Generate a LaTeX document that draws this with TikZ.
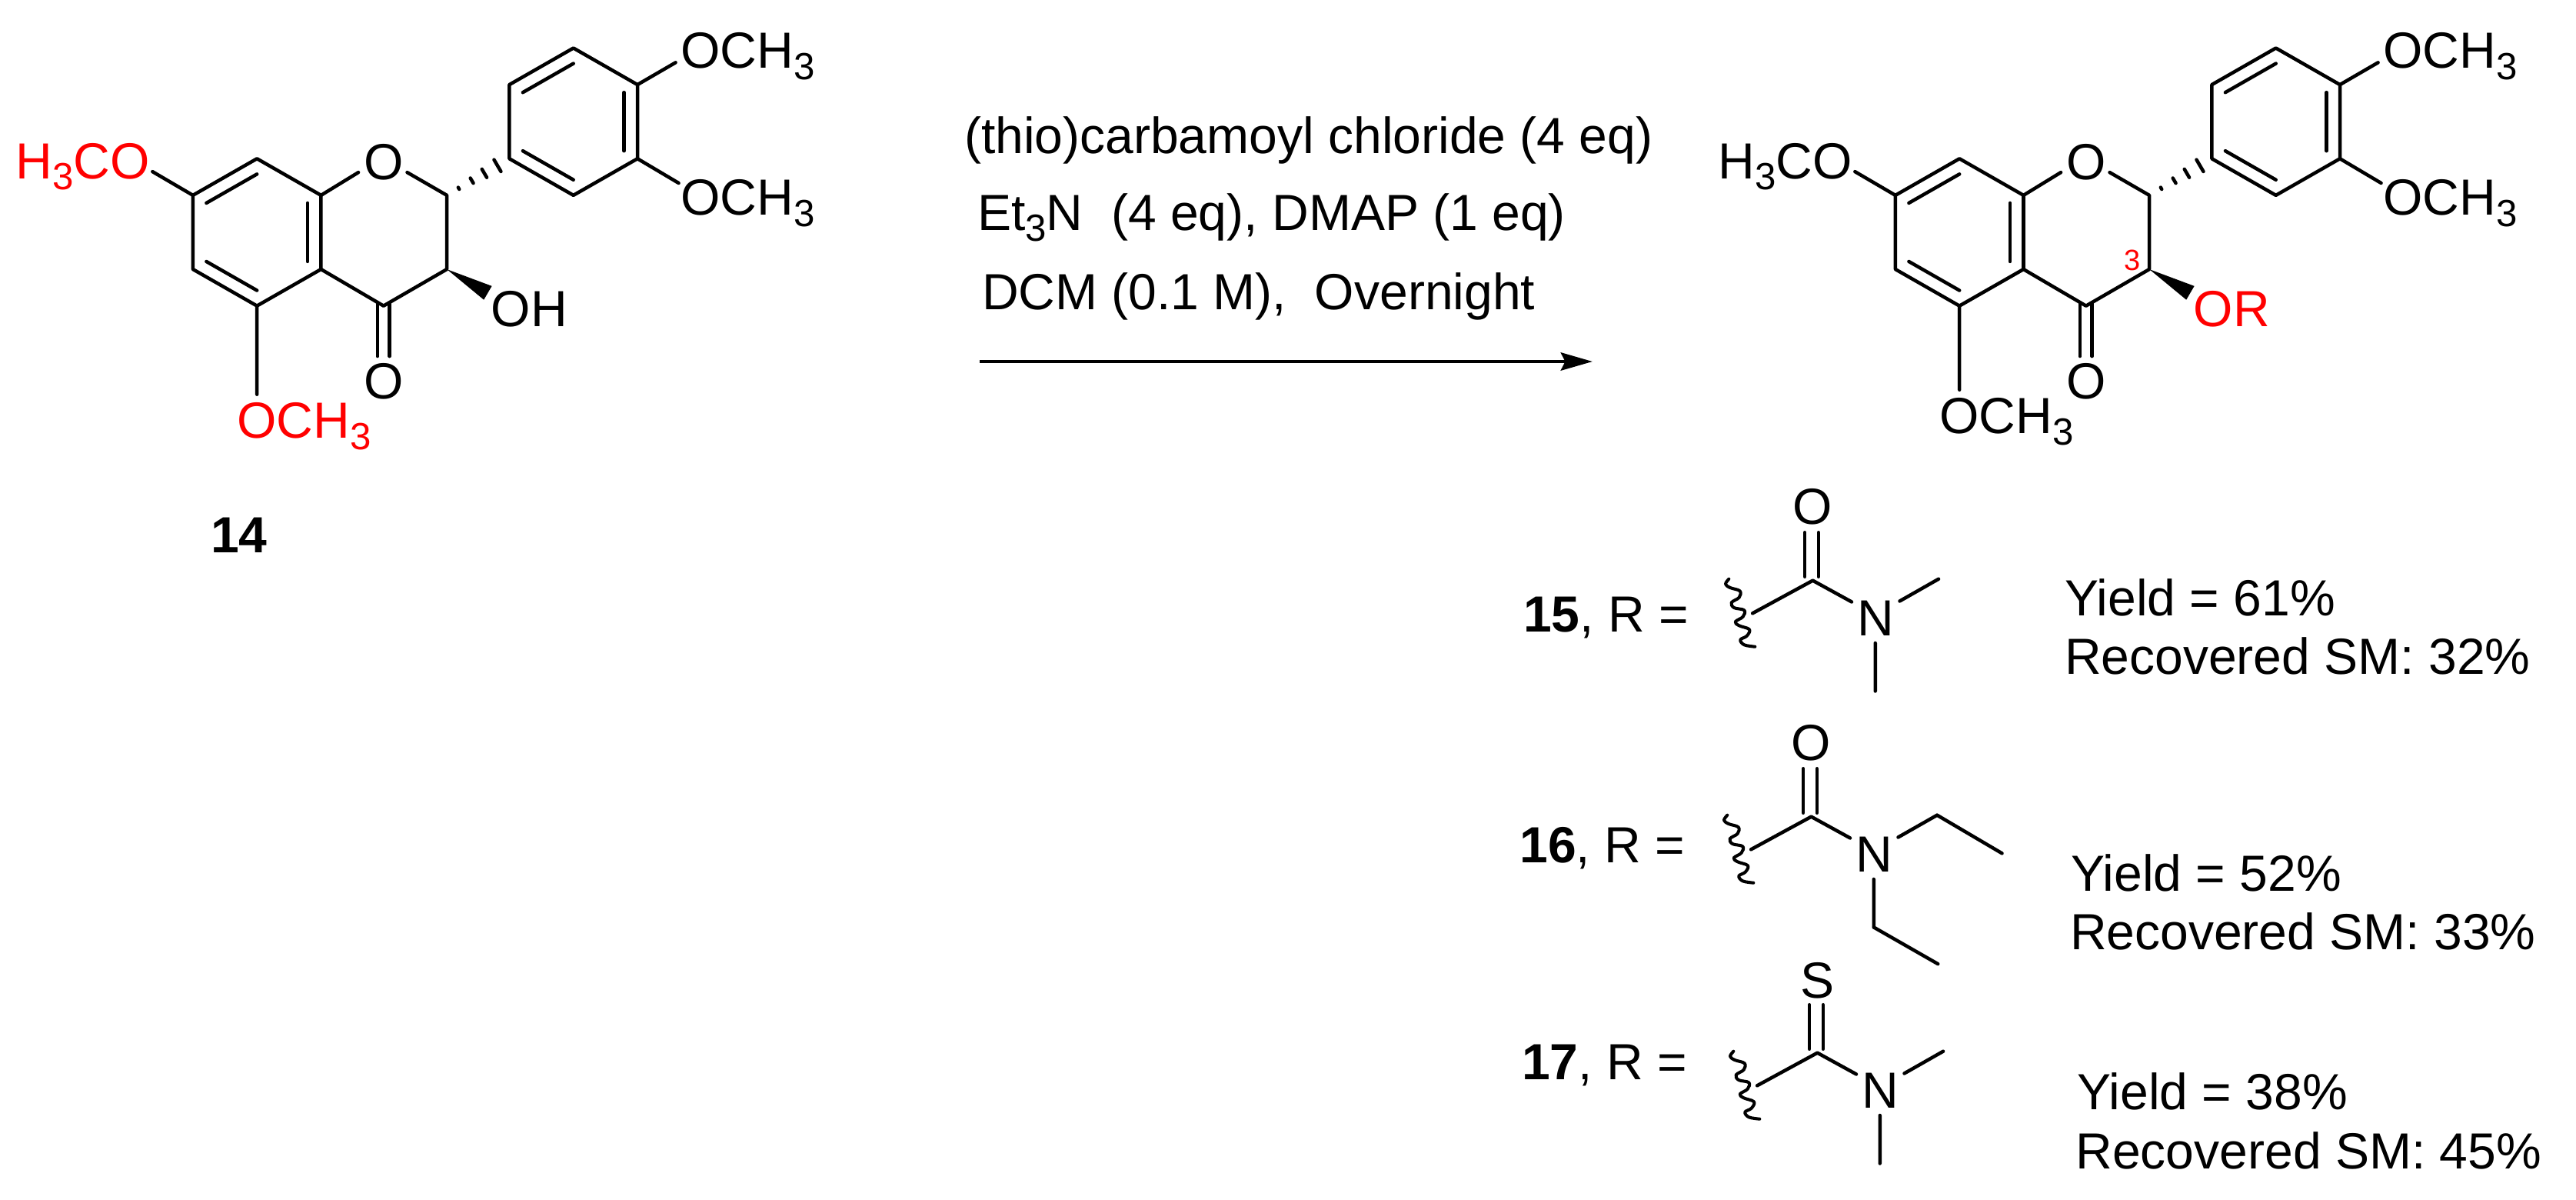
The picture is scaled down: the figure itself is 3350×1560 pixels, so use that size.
\documentclass[tikz,border=0pt]{standalone}
\usepackage{fontspec}
\setmainfont{Liberation Sans}
\usetikzlibrary{calc,arrows.meta}
\definecolor{chemred}{RGB}{255,0,0}
\newcommand{\chsub}[1]{\raisebox{-4.2pt}{\fontsize{14}{14}\selectfont #1}}
\tikzset{
  bond/.style={line width=1.28pt,line cap=round,line join=round,black},
  hashbar/.style={line width=1.28pt,line cap=round,black},
  lab/.style={inner sep=0pt,outer sep=0pt,anchor=base west,font=\fontsize{18.78}{22}\selectfont},
  atomlab/.style={lab,anchor=base},
  wavy/.style={line width=1.15pt,line cap=round,line join=round,black},
  reaction/.style={line width=1.3pt,-{Stealth[length=11.7pt,width=6.6pt,inset=1.6pt]}}
}
% inner line of an aromatic double bond
\newcommand{\dbl}[3]{\draw[bond] ($(#1)!.21!(#3)$) -- ($(#2)!.21!(#3)$);}
% flavanone skeleton: #1 prefix, #2 x shift, #3 colour of 5,7-OMe, #4 3-substituent text,
% #5 its colour, #6 its x, #7 5-OMe baseline
\newcommand{\flavanone}[7]{%
\begin{scope}[shift={(#2,0)},scale=.9917]
  \coordinate (#1C8) at (337,208);  \coordinate (#1C8a) at (421,256);
  \coordinate (#1C4a) at (421,353); \coordinate (#1C5) at (337,401);
  \coordinate (#1C6) at (253,353);  \coordinate (#1C7) at (253,256);
  \coordinate (#1C2) at (586,256);  \coordinate (#1C3) at (586,353);
  \coordinate (#1C4) at (503,401);
  \coordinate (#1cA) at (337,304.5);
  \coordinate (#1Ar1) at (668,208); \coordinate (#1Ar2) at (668,111);
  \coordinate (#1Ar3) at (752,63);  \coordinate (#1Ar4) at (836,111);
  \coordinate (#1Ar5) at (836,208); \coordinate (#1Ar6) at (752,256);
  \coordinate (#1cB) at (752,159.5);
  \coordinate (#1O1l) at (470,226); \coordinate (#1O1r) at (534,226);
  \coordinate (#1m7) at (200,225);
  \coordinate (#1m5) at (337,#7-57);
  \coordinate (#1m4) at (886,82);
  \coordinate (#1m3) at (890,240);
  \coordinate (#1w1) at (645,375);  \coordinate (#1w2) at (634.5,393);
  \coordinate (#1Oa1) at (495,397); \coordinate (#1Oa2) at (495,467);
  \coordinate (#1Ob1) at (511,397); \coordinate (#1Ob2) at (511,467);
  \node[atomlab] (#1O1) at (503,235) {O};
  \node[atomlab] (#1Ok) at (503,523) {O};
  \node[lab,text=#3] (#1OMe7) at (21,234) {H\chsub{3}CO};
  \node[lab,text=#3] (#1OMe5) at (311,#7) {OCH\chsub{3}};
  \node[lab] (#1OMe4) at (893,89) {OCH\chsub{3}};
  \node[lab] (#1OMe3) at (893,282) {OCH\chsub{3}};
  \node[lab,text=#5] (#1R) at (#6,428) {#4};
  \draw[bond] (#1C7) -- (#1C8) -- (#1C8a) -- (#1C4a) -- (#1C5) -- (#1C6) -- cycle;
  \draw[bond] (#1C8a) -- (#1O1l) (#1O1r) -- (#1C2) -- (#1C3) -- (#1C4) -- (#1C4a);
  \dbl{#1C7}{#1C8}{#1cA}\dbl{#1C8a}{#1C4a}{#1cA}\dbl{#1C6}{#1C5}{#1cA}
  \draw[bond] (#1Ar1) -- (#1Ar2) -- (#1Ar3) -- (#1Ar4) -- (#1Ar5) -- (#1Ar6) -- cycle;
  \dbl{#1Ar2}{#1Ar3}{#1cB}\dbl{#1Ar4}{#1Ar5}{#1cB}\dbl{#1Ar1}{#1Ar6}{#1cB}
  \draw[bond] (#1C7) -- (#1m7) (#1C5) -- (#1m5) (#1Ar4) -- (#1m4) (#1Ar5) -- (#1m3);
  \draw[bond] (#1Oa1) -- (#1Oa2) (#1Ob1) -- (#1Ob2);
  \fill[black] (#1C3) -- (#1w1) -- (#1w2) -- cycle;
  \foreach \tpos/\hw in {.19/.4pt,.40/1.1pt,.60/1.8pt,.81/2.55pt}{
    \draw[hashbar] ($(#1C2)!\tpos!(#1Ar1)!\hw!90:(#1Ar1)$) -- ($(#1C2)!\tpos!(#1Ar1)!\hw!-90:(#1Ar1)$);
  }
\end{scope}}
% R group: #1 prefix, #2,#3 shift, #4 heteroatom, #5 baseline of it
\newcommand{\chemgroup}[5]{%
\begin{scope}[shift={(#2,#3)}]
  \draw[wavy] plot[smooth,tension=.6] coordinates {(2248.3,752.7) (2244,759.3) (2250,764) (2262.7,768.3) (2261.7,776.7) (2251.7,783.3) (2255,790) (2268.3,793.3) (2266.7,801.7) (2256.7,808.3) (2261.7,813.3) (2275,818.3) (2271.7,826.7) (2263.3,831.7) (2268.3,838.3) (2282.3,840.7)};
\end{scope}
\begin{scope}[shift={(16.2+#2,5+#3)},scale=.9917]
  \coordinate (#1b) at (2282,799);  \coordinate (#1C) at (2361,756);
  \coordinate (#1Nl) at (2412,784);
  \coordinate (#1Nr) at (2475,783); \coordinate (#1Nd) at (2443,838);
  \coordinate (#1M1) at (2526,754); \coordinate (#1M2) at (2443,901);
  \coordinate (#1da1) at (2350.5,751); \coordinate (#1da2) at (2350.5,693);
  \coordinate (#1db1) at (2368.5,751); \coordinate (#1db2) at (2368.5,693);
  \node[atomlab] (#1X) at (2361,#5) {#4};
  \node[atomlab] (#1N) at (2443,828) {N};
  \draw[bond] (#1b) -- (#1C) -- (#1Nl) (#1Nr) -- (#1M1) (#1Nd) -- (#1M2);
  \draw[bond] (#1da1) -- (#1da2) (#1db1) -- (#1db2);
\end{scope}}
\begin{document}
\begin{tikzpicture}[x=0.01cm,y=-0.01cm]
\useasboundingbox (0,0) rectangle (3350,1560);
\fill[white] (0,0) rectangle (3350,1560);
\flavanone{a}{0}{chemred}{OH}{black}{644}{574}
\flavanone{b}{2214}{black}{OR}{chemred}{644}{568}
\node[lab] (n14) at (274,718) {\bfseries 14};
\node[lab,text=chemred,font=\fontsize{10.8}{12}\selectfont] (n3) at (2762,351) {3};
% reagents
\node[lab] (r1) at (1254,199) {(thio)carbamoyl chloride (4 eq)};
\node[lab] (r2) at (1271,299) {Et\chsub{3}N\ \ (4 eq), DMAP (1 eq)};
\node[lab] (r3) at (1277,402) {DCM (0.1 M),\ \ Overnight};
\coordinate (arrS) at (1274,470);
\coordinate (arrE) at (2071,470);
\draw[reaction] (arrS) -- (arrE);
% R groups
\node[lab] (l15) at (1981,821) {\textbf{15}, R =};
\node[lab] (l16) at (1976.5,1121) {\textbf{16}, R =};
\node[lab] (l17) at (1979,1403) {\textbf{17}, R =};
\chemgroup{p}{0}{0}{O}{682}
\chemgroup{q}{-2}{307}{O}{682}
\chemgroup{s}{6}{614}{S}{684}
\begin{scope}[shift={(14.2,312)},scale=.9917]
  \coordinate (qE1) at (2611,804);
  \coordinate (qE2) at (2527,949);
\end{scope}
\draw[bond] (qM1) -- (qE1) (qM2) -- (qE2);
% yields
\node[lab] (y1) at (2685,800) {Yield = 61\%};
\node[lab] (v1) at (2685,876) {Recovered SM: 32\%};
\node[lab] (y2) at (2693,1158) {Yield = 52\%};
\node[lab] (v2) at (2692,1234) {Recovered SM: 33\%};
\node[lab] (y3) at (2701,1442) {Yield = 38\%};
\node[lab] (v3) at (2699.5,1519) {Recovered SM: 45\%};
\end{tikzpicture}
\end{document}
